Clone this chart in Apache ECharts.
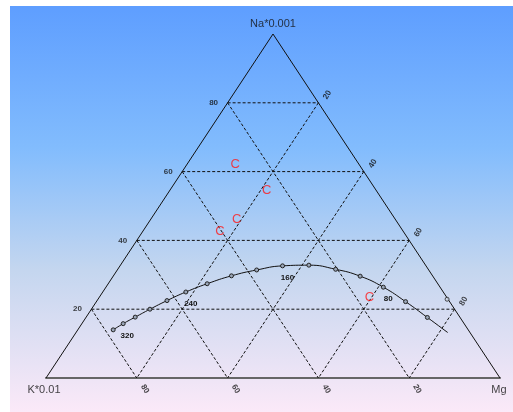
<!DOCTYPE html>
<html>
<head>
<meta charset="utf-8">
<script src="https://cdn.jsdelivr.net/npm/echarts@6/dist/echarts.min.js"></script>
<style>
  html, body { margin: 0; padding: 0; background: #fff; }
  #chart { width: 513px; height: 412px; }
</style>
</head>
<body>
<div id="chart"></div>
<script>
// ternary ticks (percent)
const ticks = [20, 40, 60, 80]

// equilibrium curve (Na, K, Mg in %)
const curveNa = [14.0, 15.8, 17.7, 20.0, 22.5, 25.0, 27.4, 29.7, 31.4, 32.6, 32.8, 31.6, 29.6, 26.4, 22.2, 17.6, 13.2]
const curveK = [78.2, 75.1, 71.5, 67.1, 62.1, 56.7, 50.8, 44.3, 37.9, 31.6, 25.7, 20.4, 16.0, 12.5, 9.7, 7.2, 4.9]
const curveMg = [7.8, 9.1, 10.8, 12.9, 15.4, 18.3, 21.8, 26.0, 30.7, 35.8, 41.5, 48.0, 54.4, 61.1, 68.1, 75.2, 81.9]
const curveTemps = ['320', '', '', '', '', '240', '', '', '', '160', '', '', '', '80', '', '', '']

// sample points "C"
const sampleNa = [62.2, 54.4, 46.2, 42.6, 23.5]
const sampleK = [27.2, 24.2, 34.9, 40.4, 17.0]
const sampleMg = [10.6, 21.4, 18.9, 17.0, 59.5]

// single open marker near the Mg side
const extraNa = [22.9]
const extraK = [0.2]
const extraMg = [76.9]

function toXY(na, k, mg) {
  const s = na + k + mg
  return [(mg + na / 2) / s * 100, na / s * 100]
}

// label offset is applied in the rotated frame, so turn a screen offset into it
function rotOffset(dx, dy, deg) {
  const a = deg * Math.PI / 180
  return [dx * Math.cos(a) - dy * Math.sin(a), dx * Math.sin(a) + dy * Math.cos(a)]
}

const chart = echarts.init(document.getElementById('chart'))

const series = []
const hidden = { color: 'rgba(0,0,0,0)' }

// triangle sides (base is the x axis line)
series.push({
  type: 'line',
  data: [toXY(0, 100, 0), toXY(100, 0, 0), toXY(0, 0, 100)],
  symbol: 'none',
  lineStyle: { color: '#111', width: 1 },
  silent: true,
  z: 3
})

// dashed grid
const dashStyle = { color: '#111', width: 1, type: [3, 2] }
ticks.forEach(t => {
  const segs = [
    [toXY(t, 100 - t, 0), toXY(t, 0, 100 - t)],   // Na = t
    [toXY(100 - t, t, 0), toXY(0, t, 100 - t)],   // K = t
    [toXY(100 - t, 0, t), toXY(0, 100 - t, t)]    // Mg = t
  ]
  segs.forEach(seg => {
    series.push({
      type: 'line',
      data: seg,
      symbol: 'none',
      lineStyle: dashStyle,
      silent: true,
      z: 2
    })
  })
})

const tickFont = { fontSize: 8, fontWeight: 'bold', color: '#111', fontFamily: 'Liberation Sans' }

// Na labels on left side
series.push({
  type: 'scatter',
  symbolSize: 1,
  itemStyle: hidden,
  data: ticks.map(t => toXY(t, 100 - t, 0)),
  label: {
    show: true, position: 'inside', offset: [-14, 0],
    formatter: p => ticks[p.dataIndex], ...tickFont
  }
})
// Mg labels on right side
series.push({
  type: 'scatter',
  symbolSize: 1,
  itemStyle: hidden,
  data: ticks.map(t => toXY(100 - t, 0, t)),
  label: {
    show: true, position: 'inside', offset: rotOffset(9, -8, 60), rotate: 60,
    formatter: p => ticks[p.dataIndex], ...tickFont
  }
})
// K labels on base
series.push({
  type: 'scatter',
  symbolSize: 1,
  itemStyle: hidden,
  data: ticks.map(t => toXY(0, t, 100 - t)),
  label: {
    show: true, position: 'inside', offset: rotOffset(8, 11, -60), rotate: -60,
    formatter: p => ticks[p.dataIndex], ...tickFont
  }
})

// corner names
const cornerFont = { fontSize: 11, color: '#111', fontFamily: 'Liberation Sans' }
series.push({
  type: 'scatter',
  symbolSize: 1,
  itemStyle: hidden,
  data: [
    { value: toXY(100, 0, 0), label: { offset: [0, -10], formatter: 'Na*0.001' } },
    { value: toXY(0, 100, 0), label: { offset: [-2, 12], formatter: 'K*0.01' } },
    { value: toXY(0, 0, 100), label: { offset: [-1, 12], formatter: 'Mg' } }
  ],
  label: { show: true, position: 'inside', ...cornerFont }
})

// equilibrium curve
const last = curveNa.length - 1
series.push({
  type: 'line',
  smooth: true,
  symbol: 'circle',
  symbolSize: 4,
  showAllSymbol: true,
  data: curveNa.map((na, i) => {
    const item = { value: toXY(na, curveK[i], curveMg[i]) }
    if (i === last) item.symbol = 'none'
    if (curveTemps[i]) {
      item.label = {
        show: true,
        formatter: curveTemps[i],
        position: 'inside',
        offset: i === 0 ? [14, 6] : [5, 12],
        ...tickFont
      }
    }
    return item
  }),
  lineStyle: { color: '#111', width: 1 },
  itemStyle: { color: '#9aa6b8', borderColor: '#222', borderWidth: 1 },
  z: 5
})

// extra open marker
series.push({
  type: 'scatter',
  symbol: 'circle',
  symbolSize: 4,
  data: extraNa.map((na, i) => toXY(na, extraK[i], extraMg[i])),
  itemStyle: { color: '#d0d8e8', borderColor: '#222', borderWidth: 1 },
  z: 5
})

// samples
series.push({
  type: 'scatter',
  symbolSize: 1,
  itemStyle: hidden,
  data: sampleNa.map((na, i) => toXY(na, sampleK[i], sampleMg[i])),
  label: {
    show: true, position: 'inside', formatter: 'C',
    color: '#ff1a1a', fontSize: 13, fontFamily: 'Liberation Sans'
  },
  z: 6
})

const option = {
  animation: false,
  graphic: [{
    type: 'rect',
    shape: { x: 10, y: 6, width: 503, height: 406 },
    style: {
      fill: new echarts.graphic.LinearGradient(0, 0, 0, 1, [
        { offset: 0, color: '#5e9eff' },
        { offset: 0.35, color: '#82bcfd' },
        { offset: 0.65, color: '#c4d6ef' },
        { offset: 1, color: '#fbe9f8' }
      ])
    },
    silent: true,
    z: -10
  }],
  grid: { left: 46, right: 13, top: 34, bottom: 34 },
  xAxis: {
    type: 'value', min: 0, max: 100,
    axisLine: { show: true, lineStyle: { color: '#666', width: 2 } },
    axisTick: { show: false },
    axisLabel: { show: false },
    splitLine: { show: false }
  },
  yAxis: {
    type: 'value', min: 0, max: 100, show: false,
    splitLine: { show: false }
  },
  series
}

chart.setOption(option)
</script>
</body>
</html>
